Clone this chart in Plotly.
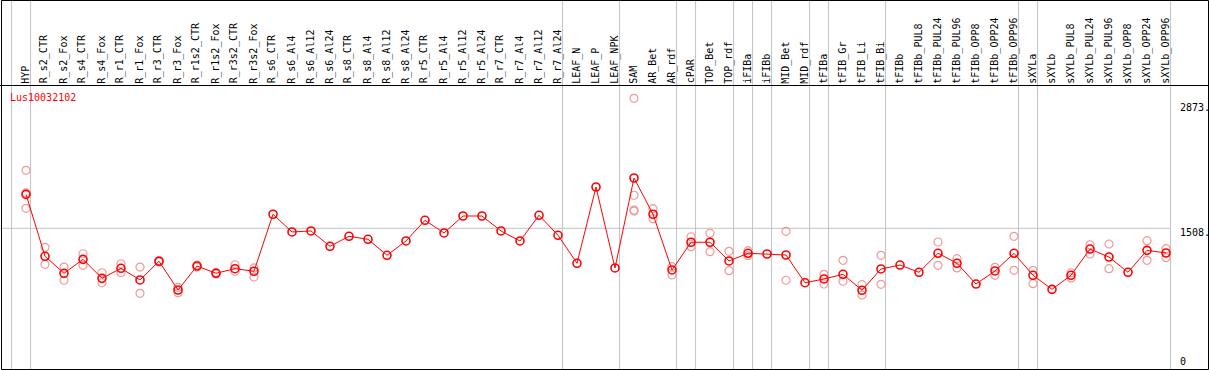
import plotly.graph_objects as go

# ---------------- data ----------------
categories = [
    "HYP", "R_s2_CTR", "R_s2_Fox", "R_s4_CTR", "R_s4_Fox", "R_r1_CTR", "R_r1_Fox",
    "R_r3_CTR", "R_r3_Fox", "R_r1s2_CTR", "R_r1s2_Fox", "R_r3s2_CTR", "R_r3s2_Fox",
    "R_s6_CTR", "R_s6_Al4", "R_s6_Al12", "R_s6_Al24", "R_s8_CTR", "R_s8_Al4",
    "R_s8_Al12", "R_s8_Al24", "R_r5_CTR", "R_r5_Al4", "R_r5_Al12", "R_r5_Al24",
    "R_r7_CTR", "R_r7_Al4", "R_r7_Al12", "R_r7_Al24", "LEAF_N", "LEAF_P", "LEAF_NPK",
    "SAM", "AR_Bet", "AR_rdf", "cPAR", "TOP_Bet", "TOP_rdf", "iFIBa", "iFIBb",
    "MID_Bet", "MID_rdf", "tFIBa", "tFIB_Gr", "tFIB_Li", "tFIB_Bi", "tFIBb",
    "tFIBb_PUL8", "tFIBb_PUL24", "tFIBb_PUL96", "tFIBb_OPP8", "tFIBb_OPP24",
    "tFIBb_OPP96", "sXYLa", "sXYLb", "sXYLb_PUL8", "sXYLb_PUL24", "sXYLb_PUL96",
    "sXYLb_OPP8", "sXYLb_OPP24", "sXYLb_OPP96",
]

# number of categories in each tissue group (separated by grey lines)
group_sizes = [1, 28, 3, 3, 1, 2, 1, 1, 2, 1, 3, 7, 1, 7]

means = [
    1878, 1203, 1018, 1170, 963, 1072, 945, 1149, 836, 1097, 1018, 1068, 1040,
    1661, 1468, 1479, 1312, 1421, 1388, 1214, 1370, 1595, 1457, 1642, 1642,
    1479, 1370, 1650, 1432, 1127, 1958, 1076,
    2056, 1661, 1054, 1356, 1356, 1152, 1236, 1228, 1217, 915,
    956, 1007, 833, 1065, 1108, 1029, 1236, 1127, 901, 1043, 1236,
    996, 843, 996, 1282, 1195, 1029, 1268, 1239,
]

N = None
rep1 = [
    2140, 1301, 1086, 1231, 1024, 1122, 1086, 1155, 865, 1108, 1027, 1111, 1076,
    N, N, N, N, N, N, N, N, N, N, N, N, N, N, N, N, N, N, N,
    2924, 1722, 1090, 1416, 1454, 1257, 1264, N, 1475, N,
    1007, 1159, 894, 1214, N, N, 1359, 1177, N, 1083, 1421,
    1050, N, 1024, 1329, 1337, N, 1373, 1286,
]
rep2 = [
    1893, 1116, 942, 1105, 915, 1024, 800, 1141, 806, 1086, 1010, 1040, 977,
    N, N, N, N, N, N, N, N, N, N, N, N, N, N, N, N, N, N, N,
    1868, 1613, 999, 1308, 1253, 1046, 1210, N, 942, N,
    901, 931, 781, 898, N, N, 1105, 1076, N, 996, 1050,
    905, N, 967, 1228, 1068, N, 1159, 1188,
]
rep3 = [1726] + [N] * 31 + [1707] + [N] * 28
rep4 = [N] * 32 + [1696] + [N] * 28

y_ticks = [2873, 1508, 0]
y_tick_text = ["2873.", "1508.", "0"]
gene = "Lus10032102"

# ---------------- layout helpers ----------------
W, H = 1209, 370
X0, DX = 26.0, 19.0          # pixel of first category, spacing
Y_REF_PX = (103.0, 228.3)    # pixel rows of 2873 and 1508
k = (Y_REF_PX[1] - Y_REF_PX[0]) / (y_ticks[0] - y_ticks[1])
ymin = y_ticks[1] - (H - Y_REF_PX[1]) / k
ymax = y_ticks[1] + Y_REF_PX[1] / k


def px(x):
    return x / W


def py(y):
    return 1 - y / H


xs = list(range(len(categories)))
FONT = "DejaVu Sans Mono"

fig = go.Figure()

# replicate points
rx, ry = [], []
for reps in (rep1, rep2, rep3, rep4):
    for i, v in enumerate(reps):
        if v is not None:
            rx.append(i)
            ry.append(v)
fig.add_trace(go.Scatter(
    x=rx, y=ry, mode="markers",
    marker=dict(symbol="circle-open", size=8, color="#f09a9a", line=dict(width=1.2)),
    hoverinfo="skip",
))

# mean line
fig.add_trace(go.Scatter(
    x=xs, y=means, mode="lines+markers",
    line=dict(color="#ff0000", width=1),
    marker=dict(symbol="circle-open", size=8, color="#ff0000", line=dict(width=1.6)),
    text=categories,
))

shapes = []
# group separators
bounds = [-1]
acc = -1
for s in group_sizes:
    acc += s
    bounds.append(acc)
for b in bounds:
    shapes.append(dict(type="line", xref="x", yref="paper", x0=b + 0.24, x1=b + 0.24,
                       y0=0, y1=1, line=dict(color="#c4c4c4", width=1), layer="below"))
# horizontal grid line at middle tick
right_edge = X0 + DX * (bounds[-1] + 0.24)
shapes.append(dict(type="line", xref="paper", yref="y", x0=0, x1=px(right_edge),
                   y0=y_ticks[1], y1=y_ticks[1], line=dict(color="#c4c4c4", width=1),
                   layer="below"))
# frame and header separator
shapes.append(dict(type="rect", xref="paper", yref="paper",
                   x0=px(1.5), x1=px(1208.5), y0=py(369.5), y1=py(0.5),
                   line=dict(color="black", width=1)))
shapes.append(dict(type="line", xref="paper", yref="paper",
                   x0=0, x1=1, y0=py(85.5), y1=py(85.5),
                   line=dict(color="black", width=1)))

annotations = []
for i, c in enumerate(categories):
    annotations.append(dict(
        x=i - 0.04, xref="x", y=py(84.5), yref="paper", text=c, showarrow=False,
        textangle=-90, xanchor="center", yanchor="bottom",
        font=dict(family=FONT, size=10, color="black"), borderpad=0,
    ))
for v, t in zip(y_ticks, y_tick_text):
    if v == 0:
        yy, yr, shift = py(361.7), "paper", 0
    else:
        yy, yr, shift = v, "y", -4.4
    annotations.append(dict(
        x=px(1178.5), xref="paper", y=yy, yref=yr, yshift=shift, text=t,
        showarrow=False, xanchor="left", yanchor="middle", borderpad=0,
        font=dict(family=FONT, size=10, color="black"),
    ))
annotations.append(dict(
    x=px(9), xref="paper", y=py(97.3), yref="paper", text=gene, showarrow=False,
    xanchor="left", yanchor="middle", borderpad=0,
    font=dict(family=FONT, size=10, color="#ff0000"),
))

fig.update_layout(
    width=W, height=H, margin=dict(l=0, r=0, t=0, b=0),
    paper_bgcolor="white", plot_bgcolor="white", showlegend=False,
    xaxis=dict(range=[-X0 / DX, (W - X0) / DX], visible=False, fixedrange=True),
    yaxis=dict(range=[ymin, ymax], visible=False, fixedrange=True),
    shapes=shapes, annotations=annotations,
)

fig.write_html(
    "out.html",
    config={"displayModeBar": False},
    post_script="document.body.style.margin='0';document.body.style.padding='0';"
                "document.body.style.overflow='hidden';",
)
